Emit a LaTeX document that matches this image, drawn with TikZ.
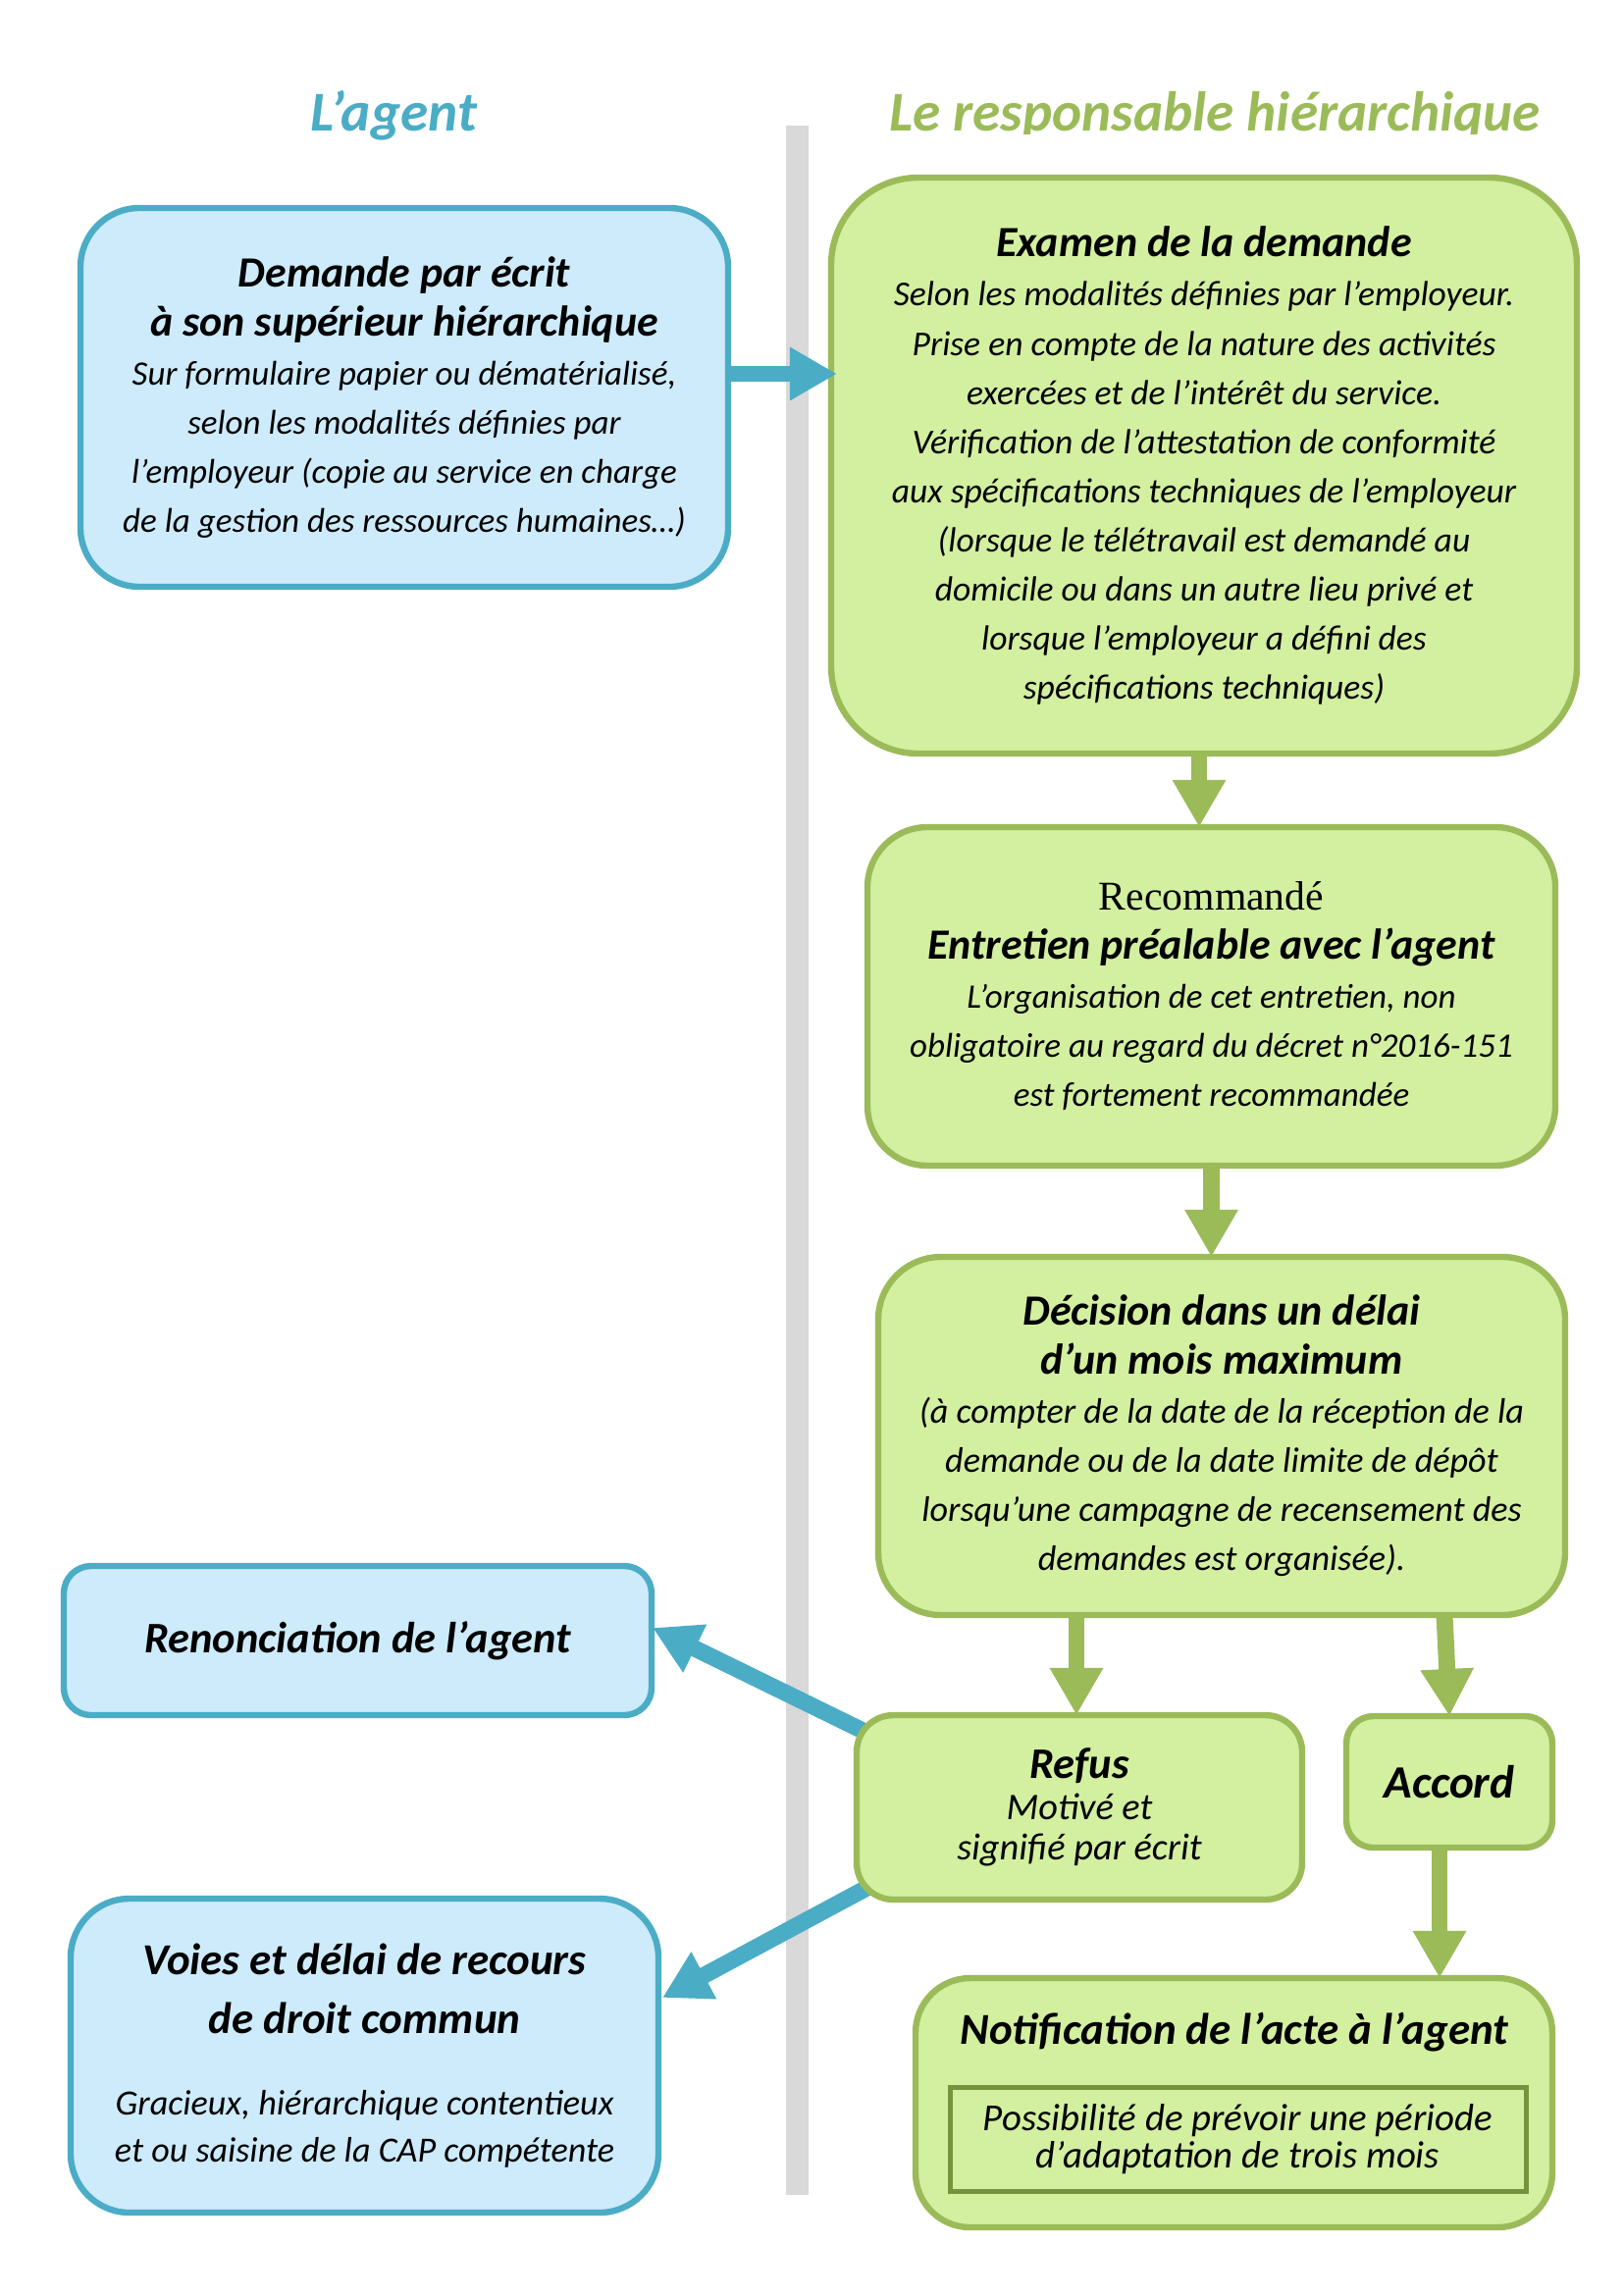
\documentclass[tikz,border=0pt]{standalone}
\usepackage{fontspec}
\setmainfont{Carlito}
\newfontfamily\serifrec{Liberation Serif}
\usetikzlibrary{arrows.meta,calc}
\newdimen\pxu \pxu=0.359907pt
\definecolor{agentblue}{HTML}{4BACC6}
\definecolor{agentfill}{HTML}{CDEBFB}
\definecolor{respgreen}{HTML}{9BBB59}
\definecolor{respfill}{HTML}{D3EFA0}
\definecolor{innergreen}{HTML}{76923C}
\definecolor{divider}{HTML}{D9D9D9}
\newcommand\boxtitle[2][15.8pt]{{\fontsize{#1}{18pt}\selectfont\bfseries\itshape #2}}
\pgfdeclarelayer{bg}
\pgfsetlayers{bg,main}
\begin{document}
\begin{tikzpicture}[x=0.359907pt,y=-0.359907pt,
  box/.style={draw, line width=2.3pt, outer sep=0pt, inner sep=0pt, align=center, anchor=center},
  bluebox/.style={box, draw=agentblue, fill=agentfill},
  greenbox/.style={box, draw=respgreen, fill=respfill},
  body/.style={font=\fontsize{#1}{18pt}\selectfont\itshape},
  body/.default=12.7pt,
  coltitle/.style={font=\fontsize{20.6pt}{24pt}\selectfont\bfseries\itshape, anchor=base, inner sep=0pt},
  arr/.style={line width=6.1pt, -{Triangle[length=17.3pt,width=18.4pt]}},
  bluearr/.style={arr, color=agentblue},
  greenarr/.style={arr, color=respgreen}
]
\useasboundingbox (0,0) rectangle (1654,2339);

% divider
\begin{pgfonlayer}{bg}
\fill[divider] (801,128) rectangle (824,2237);
\end{pgfonlayer}

% column titles
\node[coltitle, text=agentblue] (tagent) at (401,134) {L’agent};
\begin{scope}
\clip (830,0) rectangle (1654,137);
\node[coltitle, text=respgreen] (tresp) at (1238,134) {Le responsable hiérarchique};
\end{scope}

% boxes
\node[bluebox, body=12.6pt, minimum width=660\pxu, minimum height=386\pxu, rounded corners=21.6pt] (demande) at (412,405)
  {\boxtitle{Demande par écrit}\\\boxtitle{à son supérieur hiérarchique}\\Sur formulaire papier ou dématérialisé,\\selon les modalités définies par\\l’employeur (copie au service en charge\\de la gestion des ressources humaines…)};

\node[greenbox, body=12.8pt, minimum width=760\pxu, minimum height=587\pxu, rounded corners=32pt] (examen) at (1227,474.5)
  {\boxtitle{Examen de la demande}\\Selon les modalités définies par l’employeur.\\Prise en compte de la nature des activités\\exercées et de l’intérêt du service.\\Vérification de l’attestation de conformité\\aux spécifications techniques de l’employeur\\(lorsque le télétravail est demandé au\\domicile ou dans un autre lieu privé et\\lorsque l’employeur a défini des\\spécifications techniques)};

\node[greenbox, body=12.6pt, minimum width=701\pxu, minimum height=345\pxu, rounded corners=22pt] (entretien) at (1234.5,1015.5)
  {{\serifrec\upshape\fontsize{15pt}{18pt}\selectfont Recommandé}\\\boxtitle{Entretien préalable avec l’agent}\\L’organisation de cet entretien, non\\obligatoire au regard du décret n°2016-151\\est fortement recommandée};

\node[greenbox, body=13pt, minimum width=700\pxu, minimum height=365\pxu, rounded corners=23pt] (decision) at (1245,1463.5)
  {\boxtitle{Décision dans un délai}\\\boxtitle{d’un mois maximum}\\(à compter de la date de la réception de la\\demande ou de la date limite de dépôt\\lorsqu’une campagne de recensement des\\demandes est organisée).};

\node[greenbox, font=\fontsize{13.8pt}{15pt}\selectfont\itshape, minimum width=454\pxu, minimum height=188\pxu, rounded corners=13.5pt] (refus) at (1100,1842)
  {\boxtitle[16pt]{Refus}\\Motivé et\\signifié par écrit};

\node[greenbox, minimum width=210\pxu, minimum height=134\pxu, rounded corners=10pt] (accord) at (1477,1816)
  {\boxtitle[17pt]{Accord}};

\node[greenbox, minimum width=649\pxu, minimum height=254\pxu, rounded corners=20pt] (notif) at (1257.5,2143) {};
\node[font=\fontsize{16.2pt}{18pt}\selectfont\bfseries\itshape, anchor=base, inner sep=0pt] (notiftitle) at (1258,2083)
  {Notification de l’acte à l’agent};
\node[draw=innergreen, line width=1.8pt, outer sep=0pt, inner sep=0pt, align=center,
      font=\fontsize{14pt}{13.5pt}\selectfont\itshape, minimum width=587\pxu, minimum height=106\pxu] (notifinner) at (1261.5,2180)
  {Possibilité de prévoir une période\\d’adaptation de trois mois};

\node[bluebox, minimum width=599\pxu, minimum height=152\pxu, rounded corners=10pt] (renon) at (364.5,1672)
  {\boxtitle[16pt]{Renonciation de l’agent}};

\node[bluebox, font=\fontsize{13pt}{17pt}\selectfont\itshape, minimum width=599\pxu, minimum height=320\pxu, rounded corners=21.6pt] (voies) at (371.5,2095)
  {\boxtitle[16.2pt]{Voies et délai de recours}\\[4.6pt]\boxtitle[16.2pt]{de droit commun}\\[13pt]Gracieux, hiérarchique contentieux\\et ou saisine de la CAP compétente};

% connectors
\draw[bluearr] ($(demande.east)+(0,-24)$) coordinate (a1) -- ($(a1 -| examen.west)+(6,0)$);
\draw[greenarr] ($(examen.south)+(-5,0)$) coordinate (a2) -- (a2 |- entretien.north);
\draw[greenarr] (entretien.south) -- (entretien.south |- decision.north);
\draw[greenarr] ($(decision.south -| refus.north)+(-3,0)$) coordinate (a4) -- (a4 |- refus.north);
\draw[greenarr] ($(decision.south -| accord.north)+(-5,0)$) -- (accord.north);
\draw[greenarr] ($(accord.south)+(-10,0)$) coordinate (a6) -- (a6 |- notif.north);
\begin{pgfonlayer}{bg}
\draw[bluearr] ($(refus.north west)+(27,26)$) -- ($(renon.east)+(1,-13)$);
\draw[bluearr] ($(refus.south west)+(31,-23)$) -- ($(voies.east)+(4,-59)$);
\end{pgfonlayer}
\end{tikzpicture}
\end{document}
